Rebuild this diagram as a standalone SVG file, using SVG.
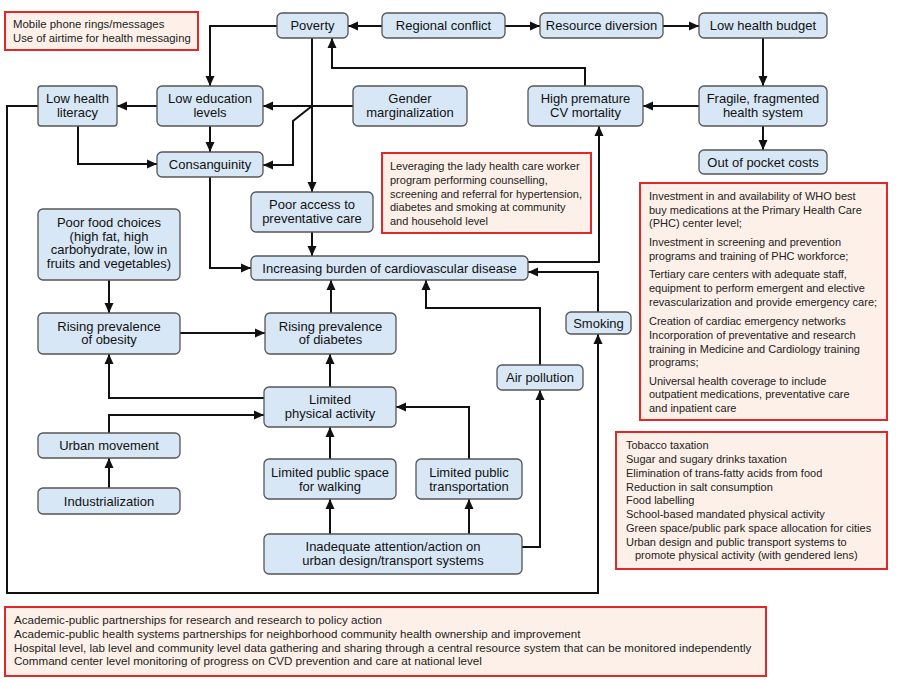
<svg xmlns="http://www.w3.org/2000/svg" width="900" height="682" viewBox="0 0 900 682">
<defs>
<style>
.n rect{fill:#d8e7f5;stroke:#555;stroke-width:1.3}
.n text{font-family:"Liberation Sans",Arial,sans-serif;font-size:13px;fill:#111;text-anchor:middle}
.r rect{fill:#fdf0e8;stroke:#e02828;stroke-width:2}
.r text{font-family:"Liberation Sans",Arial,sans-serif;font-size:11px;fill:#222}
.r text.b{font-size:11.6px}
.c path{fill:none;stroke:#111;stroke-width:2}
.c path.a{marker-end:url(#ah)}
</style>
<marker id="ah" markerUnits="userSpaceOnUse" markerWidth="10" markerHeight="10" refX="10" refY="5" orient="auto">
<path d="M0,0.5 L10,5 L0,9.5 z" fill="#111"/>
</marker>
</defs>
<rect width="900" height="682" fill="#fff"/>

<g class="c" id="connectors">
<path class="a" d="M382,26 H348"/>
<path class="a" d="M505,26 H540"/>
<path class="a" d="M663,26 H699"/>
<path class="a" d="M763,38 V86"/>
<path class="a" d="M699,106 H643"/>
<path class="a" d="M763,126 V150"/>
<path class="a" d="M585,86 V68 H332 V38"/>
<path class="a" d="M277,26 H210 V86"/>
<path class="a" d="M312,38 V192"/>
<path class="a" d="M353,106 H263"/>
<path class="a" d="M312,106 L293,121 V165 H263"/>
<path class="a" d="M157,106 H117"/>
<path class="a" d="M210,126 V152"/>
<path class="a" d="M78,126 V164 H157"/>
<path class="a" d="M38,106 H7 V593 H598 V334"/>
<path class="a" d="M210,177 V268 H251"/>
<path class="a" d="M312,232 V256"/>
<path class="a" d="M528,262 H599 V126"/>
<path class="a" d="M598,312 V272 H528"/>
<path class="a" d="M109,280 V313"/>
<path class="a" d="M180,333 H265"/>
<path class="a" d="M331,313 V280"/>
<path class="a" d="M330,387 V354"/>
<path class="a" d="M264,398 H109 V354"/>
<path class="a" d="M109,433 V415 H264"/>
<path class="a" d="M109,488 V458"/>
<path class="a" d="M330,459 V427"/>
<path class="a" d="M469,459 V407 H396"/>
<path class="a" d="M330,534 V499"/>
<path class="a" d="M469,534 V499"/>
<path class="a" d="M522,547 H540 V390"/>
<path class="a" d="M540,365 V308 H426 V280"/>
</g>

<g class="r" id="box-mobile">
<rect x="5" y="12" width="193" height="38"/>
<text x="13" y="28" style="font-size:11.4px">Mobile phone rings/messages</text>
<text x="13" y="42" style="font-size:11.3px">Use of airtime for health messaging</text>
</g>

<g class="n" id="poverty"><rect x="277" y="13" width="71" height="25" rx="5"/><text x="312.5" y="30">Poverty</text></g>
<g class="n" id="regional-conflict"><rect x="382" y="13" width="123" height="25" rx="5"/><text x="443.5" y="30">Regional conflict</text></g>
<g class="n" id="resource-diversion"><rect x="540" y="13" width="123" height="25" rx="5"/><text x="601.5" y="30">Resource diversion</text></g>
<g class="n" id="low-health-budget"><rect x="699" y="13" width="128" height="25" rx="5"/><text x="763" y="30">Low health budget</text></g>

<g class="n" id="low-health-literacy"><rect x="38" y="86" width="79" height="40" rx="3"/><text x="77.5" y="103">Low health</text><text x="77.5" y="117">literacy</text></g>
<g class="n" id="low-education"><rect x="157" y="86" width="106" height="40" rx="5"/><text x="210" y="103">Low education</text><text x="210" y="117">levels</text></g>
<g class="n" id="gender"><rect x="353" y="86" width="114" height="40" rx="5"/><text x="410" y="103">Gender</text><text x="410" y="117">marginalization</text></g>
<g class="n" id="high-premature"><rect x="528" y="86" width="115" height="40" rx="5"/><text x="585.5" y="103">High premature</text><text x="585.5" y="117">CV mortality</text></g>
<g class="n" id="fragile"><rect x="699" y="86" width="128" height="40" rx="5"/><text x="763" y="103">Fragile, fragmented</text><text x="763" y="117">health system</text></g>
<g class="n" id="out-of-pocket"><rect x="699" y="150" width="128" height="24" rx="5"/><text x="763" y="166.5">Out of pocket costs</text></g>
<g class="n" id="consanguinity"><rect x="157" y="152" width="106" height="25" rx="5"/><text x="210" y="169">Consanguinity</text></g>

<g class="r" id="box-lhw">
<rect x="382" y="153" width="209" height="80"/>
<text x="390" y="170">Leveraging the lady health care worker</text>
<text x="390" y="184">program performing counselling,</text>
<text x="390" y="197.5">screening and referral for hypertension,</text>
<text x="390" y="211">diabetes and smoking at community</text>
<text x="390" y="225">and household level</text>
</g>

<g class="n" id="poor-access"><rect x="251" y="192" width="122" height="40" rx="5"/><text x="312" y="209">Poor access to</text><text x="312" y="223">preventative care</text></g>
<g class="n" id="increasing-burden"><rect x="251" y="256" width="277" height="24" rx="5"/><text x="389.5" y="272.5">Increasing burden of cardiovascular disease</text></g>

<g class="n" id="poor-food"><rect x="38" y="209" width="142" height="71" rx="5"/>
<text x="109" y="227">Poor food choices</text><text x="109" y="240.5">(high fat, high</text><text x="109" y="254">carbohydrate, low in</text><text x="109" y="267.5">fruits and vegetables)</text></g>
<g class="n" id="obesity"><rect x="38" y="313" width="142" height="41" rx="5"/><text x="109" y="330.5">Rising prevalence</text><text x="109" y="344">of obesity</text></g>
<g class="n" id="diabetes"><rect x="265" y="313" width="131" height="41" rx="5"/><text x="330.5" y="330.5">Rising prevalence</text><text x="330.5" y="344">of diabetes</text></g>
<g class="n" id="smoking"><rect x="566" y="312" width="65" height="22" rx="5"/><text x="598.5" y="327.5">Smoking</text></g>
<g class="n" id="air-pollution"><rect x="497" y="365" width="86" height="25" rx="5"/><text x="540" y="382">Air pollution</text></g>
<g class="n" id="limited-pa"><rect x="264" y="387" width="132" height="40" rx="5"/><text x="330" y="403.5">Limited</text><text x="330" y="417.5">physical activity</text></g>
<g class="n" id="urban-movement"><rect x="38" y="433" width="142" height="25" rx="5"/><text x="109" y="450">Urban movement</text></g>
<g class="n" id="industrialization"><rect x="38" y="488" width="142" height="26" rx="5"/><text x="109" y="505.5">Industrialization</text></g>
<g class="n" id="limited-space"><rect x="264" y="459" width="132" height="40" rx="5"/><text x="330" y="476.5">Limited public space</text><text x="330" y="490.5">for walking</text></g>
<g class="n" id="limited-transport"><rect x="416" y="459" width="106" height="40" rx="5"/><text x="469" y="476.5">Limited public</text><text x="469" y="490.5">transportation</text></g>
<g class="n" id="inadequate"><rect x="264" y="534" width="258" height="40" rx="5"/><text x="393" y="551">Inadequate attention/action on</text><text x="393" y="565">urban design/transport systems</text></g>

<g class="r" id="box-investment">
<rect x="640" y="183" width="247" height="237"/>
<text x="649" y="200">Investment in and availability of WHO best</text>
<text x="649" y="213.5">buy medications at the Primary Health Care</text>
<text x="649" y="227">(PHC) center level;</text>
<text x="649" y="246">Investment in screening and prevention</text>
<text x="649" y="260">programs and training of PHC workforce;</text>
<text x="649" y="278">Tertiary care centers with adequate staff,</text>
<text x="649" y="292">equipment to perform emergent and elective</text>
<text x="649" y="306">revascularization and provide emergency care;</text>
<text x="649" y="325">Creation of cardiac emergency networks</text>
<text x="649" y="339">Incorporation of preventative and research</text>
<text x="649" y="352.5">training in Medicine and Cardiology training</text>
<text x="649" y="366">programs;</text>
<text x="649" y="384.5">Universal health coverage to include</text>
<text x="649" y="398">outpatient medications, preventative care</text>
<text x="649" y="412">and inpatient care</text>
</g>

<g class="r" id="box-tobacco">
<rect x="616" y="432" width="271" height="137"/>
<text x="626" y="449">Tobacco taxation</text>
<text x="626" y="463">Sugar and sugary drinks taxation</text>
<text x="626" y="477">Elimination of trans-fatty acids from food</text>
<text x="626" y="490.5">Reduction in salt consumption</text>
<text x="626" y="504">Food labelling</text>
<text x="626" y="518">School-based mandated physical activity</text>
<text x="626" y="532">Green space/public park space allocation for cities</text>
<text x="626" y="545.5">Urban design and public transport systems to</text>
<text x="635" y="559">promote physical activity (with gendered lens)</text>
</g>

<g class="r" id="box-bottom">
<rect x="5" y="607" width="761" height="69"/>
<text class="b" x="14" y="624">Academic-public partnerships for research and research to policy action</text>
<text class="b" x="14" y="638">Academic-public health systems partnerships for neighborhood community health ownership and improvement</text>
<text class="b" x="14" y="651.5">Hospital level, lab level and community level data gathering and sharing through a central resource system that can be monitored independently</text>
<text class="b" x="14" y="665">Command center level monitoring of progress on CVD prevention and care at national level</text>
</g>
</svg>
